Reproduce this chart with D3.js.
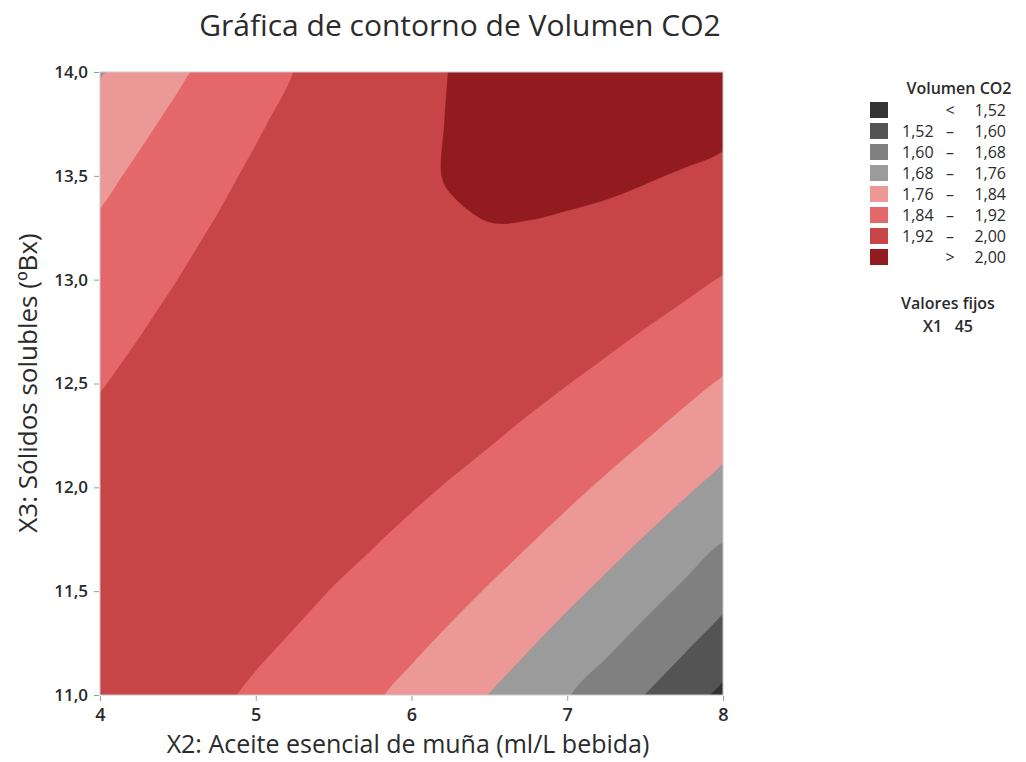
<!DOCTYPE html>
<html>
<head>
<meta charset="utf-8">
<script src="https://cdn.jsdelivr.net/npm/d3@7"></script>
<style>
  body { margin: 0; background: #fff; }
  text { font-family: "Open Sans", "Noto Sans", sans-serif; fill: #2b2b2b; }
</style>
</head>
<body>
<svg id="chart" width="1026" height="762"></svg>
<script>
// grid of Volumen CO2 (X1 fixed at 45)
var x2Vals = [4, 4.25, 4.5, 4.75, 5, 5.25, 5.5, 5.75, 6, 6.25, 6.5, 6.75, 7, 7.25, 7.5, 7.75, 8];
var x3Vals = [14, 13.75, 13.5, 13.25, 13, 12.75, 12.5, 12.25, 12, 11.75, 11.5, 11.25, 11];
var co2 = [
  [1.754,1.793,1.829,1.862,1.893,1.921,1.946,1.966,1.984,2.001,2.018,2.029,2.037,2.042,2.045,2.045,2.042],
  [1.789,1.825,1.857,1.886,1.913,1.937,1.958,1.975,1.989,2.002,2.015,2.022,2.026,2.028,2.026,2.022,2.015],
  [1.822,1.853,1.881,1.907,1.930,1.950,1.967,1.982,1.993,2.002,2.008,2.012,2.012,2.010,2.004,1.996,1.986],
  [1.850,1.878,1.903,1.924,1.943,1.960,1.973,1.984,1.991,1.996,1.999,1.998,1.994,1.988,1.979,1.967,1.952],
  [1.876,1.900,1.920,1.938,1.953,1.966,1.975,1.982,1.986,1.987,1.985,1.981,1.974,1.963,1.950,1.935,1.916],
  [1.898,1.918,1.935,1.949,1.960,1.969,1.974,1.977,1.977,1.974,1.969,1.960,1.949,1.935,1.918,1.899,1.876],
  [1.917,1.933,1.946,1.956,1.963,1.968,1.970,1.969,1.965,1.958,1.949,1.937,1.921,1.904,1.883,1.859,1.833],
  [1.932,1.944,1.954,1.960,1.963,1.964,1.962,1.957,1.949,1.939,1.926,1.909,1.890,1.869,1.844,1.817,1.786],
  [1.944,1.953,1.958,1.960,1.960,1.957,1.951,1.942,1.931,1.916,1.899,1.879,1.856,1.830,1.802,1.771,1.737],
  [1.953,1.958,1.959,1.957,1.953,1.946,1.936,1.924,1.908,1.890,1.869,1.845,1.818,1.789,1.756,1.721,1.683],
  [1.958,1.959,1.956,1.951,1.943,1.932,1.918,1.902,1.882,1.860,1.835,1.808,1.777,1.744,1.707,1.668,1.626],
  [1.960,1.957,1.951,1.941,1.929,1.915,1.897,1.877,1.853,1.827,1.799,1.767,1.732,1.695,1.655,1.612,1.566],
  [1.959,1.952,1.941,1.928,1.912,1.894,1.872,1.848,1.821,1.791,1.758,1.723,1.684,1.643,1.599,1.553,1.503]
];
var levels = [1.52, 1.60, 1.68, 1.76, 1.84, 1.92, 2.00];
var colors = ["#333333", "#545454", "#808080", "#9b9b9b", "#ec9897", "#e4676a", "#c84547", "#921b1f"];
var legendLabels = [["", "<", "1,52"], ["1,52", "–", "1,60"], ["1,60", "–", "1,68"], ["1,68", "–", "1,76"],
  ["1,76", "–", "1,84"], ["1,84", "–", "1,92"], ["1,92", "–", "2,00"], ["", ">", "2,00"]];
var xTicks = [4, 5, 6, 7, 8];
var yTicks = [11, 11.5, 12, 12.5, 13, 13.5, 14];

var svg = d3.select("#chart"),
    pL = 100, pR = 723, pT = 72, pB = 695;

var x = d3.scaleLinear().domain([4, 8]).range([pL, pR]),
    y = d3.scaleLinear().domain([11, 14]).range([pB, pT]);

var nx = x2Vals.length, ny = x3Vals.length;
// contour coordinates: value i sits at i + 0.5
var gx = d3.scaleLinear().domain([0.5, nx - 0.5]).range([x(x2Vals[0]), x(x2Vals[nx - 1])]),
    gy = d3.scaleLinear().domain([0.5, ny - 0.5]).range([y(x3Vals[0]), y(x3Vals[ny - 1])]);

var flat = [];
co2.forEach(function(row) { row.forEach(function(v) { flat.push(v); }); });

var contours = d3.contours().size([nx, ny]).thresholds(levels)(flat);

svg.append("clipPath").attr("id", "plotclip")
  .append("rect").attr("x", pL).attr("y", pT).attr("width", pR - pL).attr("height", pB - pT);

var ringLine = d3.line()
  .x(function(p) { return gx(p[0]); })
  .y(function(p) { return gy(p[1]); })
  .curve(d3.curveCatmullRomClosed.alpha(0.5));

function contourPath(c) {
  return c.coordinates.map(function(poly) {
    return poly.map(function(ring) { return ringLine(ring.slice(0, -1)); }).join("");
  }).join("");
}

var plot = svg.append("g").attr("clip-path", "url(#plotclip)");
plot.append("rect").attr("x", pL).attr("y", pT).attr("width", pR - pL).attr("height", pB - pT)
  .attr("fill", colors[0]);
plot.selectAll("path.band").data(contours).enter().append("path")
  .attr("class", "band")
  .attr("d", contourPath)
  .attr("fill-rule", "evenodd")
  .attr("fill", function(d, i) { return colors[i + 1]; })
  .attr("stroke", function(d, i) { return colors[i + 1]; })
  .attr("stroke-width", 0.5);

svg.append("rect").attr("x", pL).attr("y", pT).attr("width", pR - pL).attr("height", pB - pT)
  .attr("fill", "none").attr("stroke", "#c9c9c9").attr("stroke-width", 1);

// axes
var fmt = function(d) { return d3.format(".1f")(d).replace(".", ","); };
var xAxis = svg.append("g").attr("transform", "translate(0," + (pB + 1) + ")")
  .call(d3.axisBottom(x).tickValues(xTicks).tickSize(5).tickPadding(7).tickFormat(d3.format("d")));
var yAxis = svg.append("g").attr("transform", "translate(" + (pL - 1) + ",0)")
  .call(d3.axisLeft(y).tickValues(yTicks).tickSize(5).tickPadding(6).tickFormat(fmt));
[xAxis, yAxis].forEach(function(a) {
  a.select(".domain").remove();
  a.selectAll(".tick line").attr("stroke", "#9a9a9a");
  a.selectAll(".tick text").style("font-size", "17px").style("font-weight", 600)
    .style("font-family", "'Open Sans', sans-serif").attr("fill", "#222");
});
xAxis.selectAll(".tick text").style("font-size", "18px");

svg.append("text").attr("x", 460).attr("y", 36).attr("text-anchor", "middle")
  .style("font-size", "30px").text("Gráfica de contorno de Volumen CO2");
svg.append("text").attr("x", 408).attr("y", 753).attr("text-anchor", "middle")
  .style("font-size", "25px").text("X2: Aceite esencial de muña (ml/L bebida)");
svg.append("text").attr("transform", "translate(37,383) rotate(-90)").attr("text-anchor", "middle")
  .style("font-size", "26px").text("X3: Sólidos solubles (ºBx)");

// legend
var lg = svg.append("g");
lg.append("text").attr("x", 959).attr("y", 94).attr("text-anchor", "middle")
  .style("font-size", "16px").style("font-weight", 600).text("Volumen CO2");
var item = lg.selectAll("g.item").data(legendLabels).enter().append("g")
  .attr("transform", function(d, i) { return "translate(870," + (102 + i * 21) + ")"; });
item.append("rect").attr("width", 18).attr("height", 16)
  .attr("fill", function(d, i) { return colors[i]; });
item.append("text").attr("x", 32).attr("y", 14).style("font-size", "16px").text(function(d) { return d[0]; });
item.append("text").attr("x", 80).attr("y", 14).attr("text-anchor", "middle").style("font-size", "16px")
  .text(function(d) { return d[1]; });
item.append("text").attr("x", 136).attr("y", 14).attr("text-anchor", "end").style("font-size", "16px")
  .text(function(d) { return d[2]; });
lg.append("text").attr("x", 948).attr("y", 309).attr("text-anchor", "middle")
  .style("font-size", "16px").style("font-weight", 600).text("Valores fijos");
lg.append("text").attr("x", 948).attr("y", 332).attr("text-anchor", "middle")
  .style("font-size", "16px").style("font-weight", 600).attr("xml:space", "preserve").text("X1   45");
</script>
</body>
</html>
